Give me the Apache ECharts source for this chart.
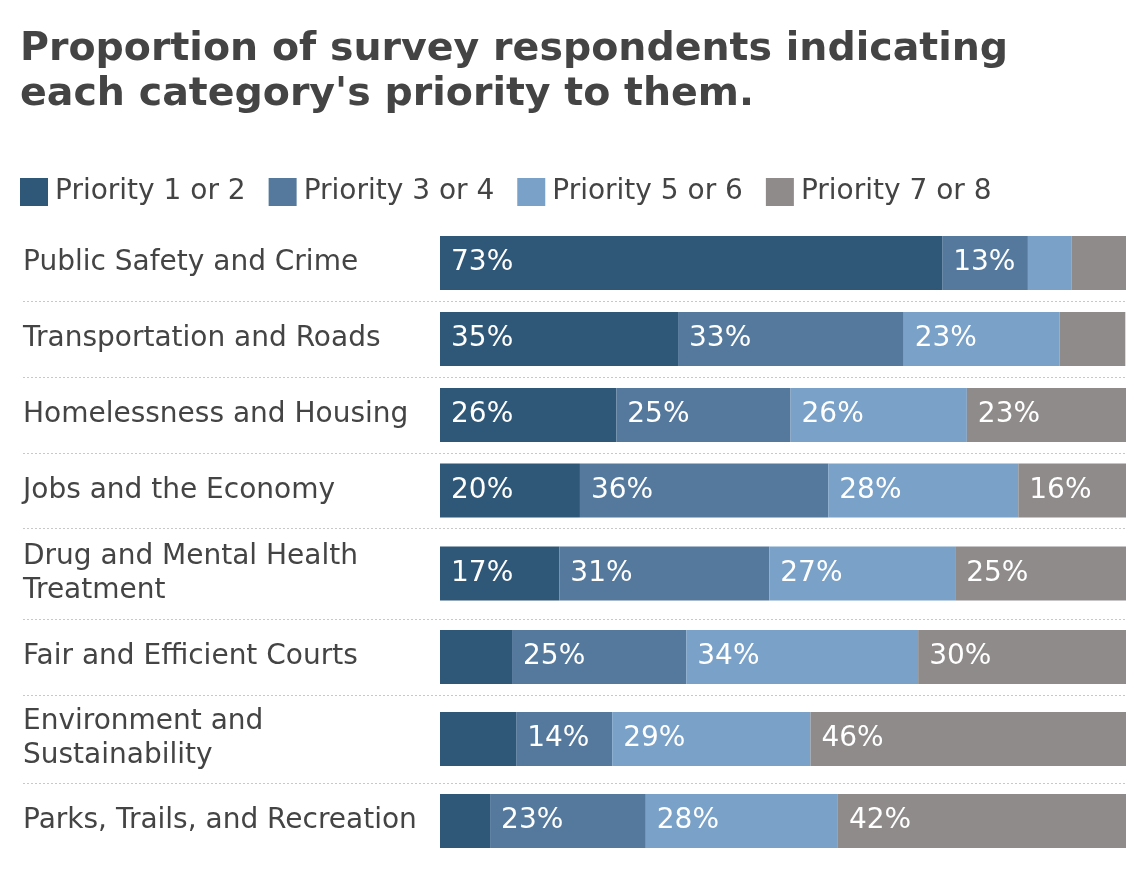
<!DOCTYPE html>
<html>
<head>
<meta charset="utf-8">
<script src="https://cdn.jsdelivr.net/npm/echarts@6/dist/echarts.min.js"></script>
<style>
  html, body { margin: 0; padding: 0; background: #ffffff; }
  #chart { width: 1148px; height: 870px; }
</style>
</head>
<body>
<div id="chart"></div>
<script>
// ---- data ----
var categories = [
  "Public Safety and Crime",
  "Transportation and Roads",
  "Homelessness and Housing",
  "Jobs and the Economy",
  "Drug and Mental Health\nTreatment",
  "Fair and Efficient Courts",
  "Environment and\nSustainability",
  "Parks, Trails, and Recreation"
];
var seriesNames = ["Priority 1 or 2", "Priority 3 or 4", "Priority 5 or 6", "Priority 7 or 8"];
var priority12 = [73.2, 34.7, 25.7, 20.4, 17.4, 10.5, 11.1, 7.3];
var priority34 = [12.5, 32.9, 25.4, 36.2, 30.6, 25.4, 14.0, 22.7];
var priority56 = [6.4, 22.7, 25.7, 27.7, 27.1, 33.8, 28.9, 28.0];
var priority78 = [7.9, 9.6, 23.3, 15.7, 24.9, 30.3, 46.1, 42.0];
var titleText = "Proportion of survey respondents indicating\neach category's priority to them.";

// ---- layout / style ----
var values = [priority12, priority34, priority56, priority78];
var colors = ["#2f5777", "#55799c", "#7aa1c8", "#8f8b8b"];
var FONT = "DejaVu Sans";
var rowHeights = [76, 76, 76, 75, 91, 76, 88, 76];
var firstTop = 225;
var plotLeft = 440, plotRight = 1126;

var grids = [], xAxes = [], yAxes = [], series = [], graphics = [];
var rowTop = firstTop;
for (var i = 0; i < categories.length; i++) {
  grids.push({ left: plotLeft, width: plotRight - plotLeft, top: rowTop, height: rowHeights[i], containLabel: false });
  xAxes.push({ type: 'value', gridIndex: i, min: 0, max: 100, show: false });
  yAxes.push({
    type: 'category', gridIndex: i, data: [categories[i]],
    axisLine: { show: false }, axisTick: { show: false }, splitLine: { show: false },
    axisLabel: {
      align: 'left', margin: plotLeft - 23, fontFamily: FONT, fontSize: 28,
      color: '#444444', lineHeight: 34
    }
  });
  for (var s = 0; s < values.length; s++) {
    series.push({
      type: 'bar', name: seriesNames[s], xAxisIndex: i, yAxisIndex: i,
      stack: 'row' + i, data: [values[s][i]], barWidth: 54,
      itemStyle: { color: colors[s] },
      label: {
        show: true, position: 'insideLeft', distance: 11,
        fontFamily: FONT, fontSize: 28, color: '#ffffff',
        formatter: function (p) { return p.value < 12 ? '' : Math.round(p.value) + '%'; }
      },
      silent: true
    });
  }
  rowTop += rowHeights[i];
  if (i < categories.length - 1) {
    graphics.push({
      type: 'line', silent: true,
      shape: { x1: 23, y1: rowTop + 0.5, x2: plotRight, y2: rowTop + 0.5 },
      style: { stroke: '#c8c8c8', lineWidth: 1, lineDash: [2, 2] }
    });
  }
}

var chart = echarts.init(document.getElementById('chart'), null, { renderer: 'canvas' });
chart.setOption({
  animation: false,
  backgroundColor: '#ffffff',
  title: {
    text: titleText, left: 20, top: 27, padding: 0,
    textStyle: { fontFamily: FONT, fontSize: 39.5, fontWeight: 'bold', color: '#444444', lineHeight: 45 }
  },
  legend: {
    data: seriesNames, left: 20, top: 178, padding: 0, icon: 'rect',
    itemWidth: 28, itemHeight: 28, itemGap: 23,
    textStyle: { fontFamily: FONT, fontSize: 28, color: '#444444', padding: [0, 0, 0, 2] },
    selectedMode: false
  },
  tooltip: { show: false },
  grid: grids, xAxis: xAxes, yAxis: yAxes, series: series,
  graphic: graphics
});
</script>
</body>
</html>
